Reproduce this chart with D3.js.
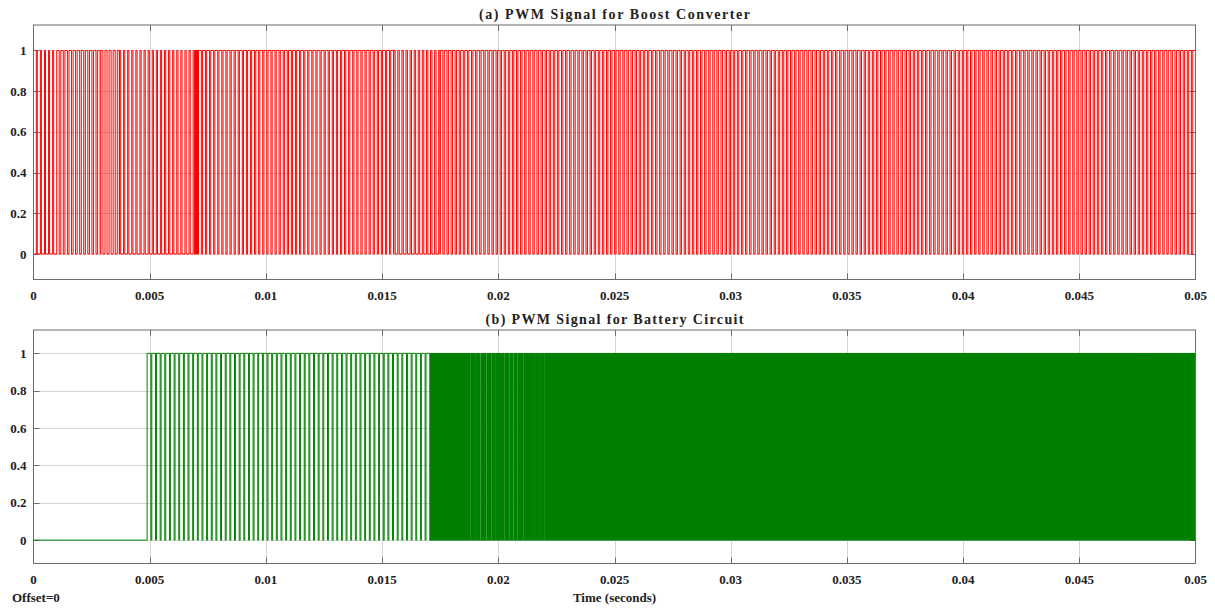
<!DOCTYPE html>
<html>
<head>
<meta charset="utf-8">
<script src="https://cdn.jsdelivr.net/npm/d3@7"></script>
<style>
  body { margin: 0; background: #fff; }
  svg text { font-family: "Liberation Serif", "Times New Roman", serif; font-weight: bold; fill: #222; }
  .grid line { stroke: #d4d4d4; stroke-width: 1; }
  .frame { fill: none; stroke: #6b6b6b; stroke-width: 1; }
  .tick-mark { stroke: #6b6b6b; stroke-width: 1; }
</style>
</head>
<body>
<div id="chart"></div>
<script>
/********************* Data *********************/
const xTicks = [0, 0.005, 0.01, 0.015, 0.02, 0.025, 0.03, 0.035, 0.04, 0.045, 0.05];
const xTickLabels = ["0", "0.005", "0.01", "0.015", "0.02", "0.025", "0.03", "0.035", "0.04", "0.045", "0.05"];
const yTicks = [0, 0.2, 0.4, 0.6, 0.8, 1];
const yTickLabels = ["0", "0.2", "0.4", "0.6", "0.8", "1"];
const titles = ["(a) PWM Signal for Boost Converter", "(b) PWM Signal for Battery Circuit"];

// PWM stretches: start time, end time, switching period, duty ratio (seconds)
const boostSegments = [
  [0.00012, 0.001, 0.000176, 0.25],
  [0.001, 0.0029, 0.000176, 0.6],
  [0.0029, 0.0037, 0.000176, 0.5],
  [0.0037, 0.00695, 0.000176, 0.3],
  [0.00695, 0.0071, 0.00002, 0.5],
  [0.0071, 0.0155, 0.000176, 0.7],
  [0.0155, 0.0175, 0.000176, 0.35],
  [0.0175, 0.05, 0.000176, 0.65]
];
const batterySegments = [
  [0.00489, 0.0171, 0.0002, 0.8],
  [0.0171, 0.05, 0.00002, 0.5]
];
// instants where the fast battery switching pauses (white slits)
const batteryPauses = [0.01878, 0.019, 0.01921, 0.01947, 0.01969, 0.01986, 0.02008, 0.02025,
  0.02044, 0.02063, 0.02081, 0.02106, 0.02154, 0.0218, 0.02195];

/********************* Chart *********************/
(() => {
  const width = 1215,
    height = 608;

  const svg = d3
    .select("#chart")
    .append("svg")
    .attr("width", width)
    .attr("height", height);

  const x = d3.scaleLinear().domain([0, 0.05]).range([33.5, 1195.5]);

  const panels = [
    { top: 25, bottom: 279.5, color: "#ff0000", segments: boostSegments, pauses: [], titleWidth: 271 },
    { top: 330, bottom: 563.5, color: "#008000", segments: batterySegments, pauses: batteryPauses, titleWidth: 258 }
  ];

  // Turn the segment table into step points [t, level]
  function pwmPoints(segments, pauses) {
    const pts = [[0, 0]];
    segments.forEach(([t0, t1, T, duty]) => {
      for (let t = t0; t < t1 - 1e-9; t += T) {
        if (pauses.some((p) => t >= p && t < p + 0.00004)) continue;
        pts.push([t, 1]);
        pts.push([Math.min(t + duty * T, t1), 0]);
      }
    });
    pts.push([0.05, pts[pts.length - 1][1]]);
    return pts;
  }

  panels.forEach((p, i) => {
    const y = d3.scaleLinear().domain([-0.125, 1.125]).range([p.bottom, p.top]);
    const g = svg.append("g");

    // grid
    const grid = g.append("g").attr("class", "grid");
    grid
      .selectAll(".vx")
      .data(xTicks.slice(1, -1))
      .enter()
      .append("line")
      .attr("x1", (d) => Math.round(x(d)) + 0.5)
      .attr("x2", (d) => Math.round(x(d)) + 0.5)
      .attr("y1", p.top)
      .attr("y2", p.bottom);
    grid
      .selectAll(".hy")
      .data(yTicks)
      .enter()
      .append("line")
      .attr("x1", x(0))
      .attr("x2", x(0.05))
      .attr("y1", (d) => Math.round(y(d)) + 0.5)
      .attr("y2", (d) => Math.round(y(d)) + 0.5);

    // inner tick marks
    g.selectAll(".xt")
      .data(xTicks.slice(1, -1))
      .enter()
      .append("path")
      .attr("class", "tick-mark")
      .attr("d", (d) => {
        const xx = Math.round(x(d)) + 0.5;
        return `M${xx},${p.top}v6M${xx},${p.bottom}v-6`;
      });
    g.selectAll(".yt")
      .data(yTicks)
      .enter()
      .append("path")
      .attr("class", "tick-mark")
      .attr("d", (d) => {
        const yy = Math.round(y(d)) + 0.5;
        return `M${x(0)},${yy}h6M${x(0.05)},${yy}h-6`;
      });

    // signal
    const clipId = "clip" + i;
    svg
      .append("clipPath")
      .attr("id", clipId)
      .append("rect")
      .attr("x", x(0))
      .attr("y", p.top)
      .attr("width", x(0.05) - x(0))
      .attr("height", p.bottom - p.top);

    const line = d3
      .line()
      .x((d) => x(d[0]))
      .y((d) => y(d[1]))
      .curve(d3.curveStepAfter);

    g.append("path")
      .datum(pwmPoints(p.segments, p.pauses))
      .attr("clip-path", `url(#${clipId})`)
      .attr("fill", "none")
      .attr("stroke", p.color)
      .attr("stroke-width", 1)
      .attr("d", line);

    // frame
    g.append("rect")
      .attr("class", "frame")
      .attr("x", x(0))
      .attr("y", p.top)
      .attr("width", x(0.05) - x(0))
      .attr("height", p.bottom - p.top);

    // tick labels
    g.selectAll(".xl")
      .data(xTicks)
      .enter()
      .append("text")
      .attr("x", (d) => x(d))
      .attr("y", p.bottom + 20)
      .attr("text-anchor", "middle")
      .style("font-size", "13px")
      .text((d, k) => xTickLabels[k]);
    g.selectAll(".yl")
      .data(yTicks)
      .enter()
      .append("text")
      .attr("x", 26.5)
      .attr("y", (d) => y(d))
      .attr("dy", "0.35em")
      .attr("text-anchor", "end")
      .style("font-size", "13px")
      .text((d, k) => yTickLabels[k]);

    // panel title
    g.append("text")
      .attr("x", (x(0) + x(0.05)) / 2)
      .attr("y", p.top - 6)
      .attr("text-anchor", "middle")
      .attr("textLength", p.titleWidth)
      .attr("lengthAdjust", "spacing")
      .style("font-size", "14px")
      .text(titles[i]);
  });

  svg
    .append("text")
    .attr("x", (x(0) + x(0.05)) / 2)
    .attr("y", 602)
    .attr("text-anchor", "middle")
    .style("font-size", "13px")
    .text("Time (seconds)");

  svg
    .append("text")
    .attr("x", 12)
    .attr("y", 602)
    .style("font-size", "13px")
    .text("Offset=0");
})();
</script>
</body>
</html>
